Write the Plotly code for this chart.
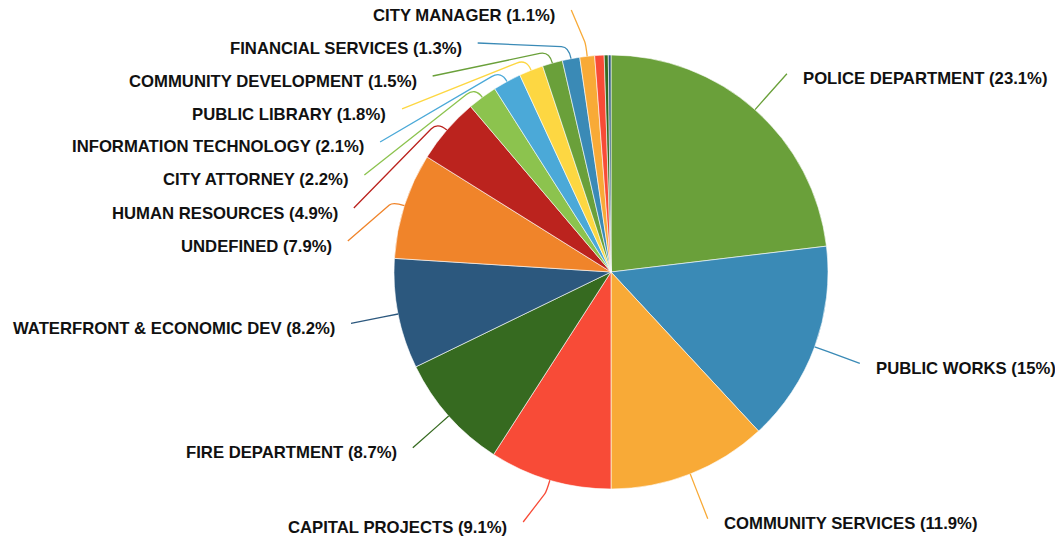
import math
import plotly.graph_objects as go

## Datos: presupuesto por departamento (%)
departments = [
    "POLICE DEPARTMENT", "PUBLIC WORKS", "COMMUNITY SERVICES", "CAPITAL PROJECTS",
    "FIRE DEPARTMENT", "WATERFRONT & ECONOMIC DEV", "UNDEFINED", "HUMAN RESOURCES",
    "CITY ATTORNEY", "INFORMATION TECHNOLOGY", "PUBLIC LIBRARY", "COMMUNITY DEVELOPMENT",
    "FINANCIAL SERVICES", "CITY MANAGER", "OTHER A", "OTHER B", "OTHER C",
]
shares = [23.1, 15, 11.9, 9.1, 8.7, 8.2, 7.9, 4.9, 2.2, 2.1, 1.8, 1.5, 1.3, 1.1, 0.7, 0.3, 0.2]
show_label = [v >= 1 for v in shares]

palette = ["#6aa03a", "#3a8ab6", "#f8aa37", "#f84b37", "#366a20", "#2c587e",
           "#f0842a", "#bb231e", "#8cc34e", "#4ba9d8", "#fdd742"]
colors = [palette[i % len(palette)] for i in range(len(shares))]

## Geometria en pixeles de pantalla (la pagina tiene 8px de margen en el body)
W, H = 1063, 540
OFF = 8
FW, FH = W - OFF, H - OFF
cx, cy, R = 611, 272, 217
label_r = 265
row_gap = 33
top_y, bottom_y = 10, 522
hook = 12
gap = 15


def px(x):
    return (x - OFF) / FW


def py(y):
    return 1 - (y - OFF) / FH


fig = go.Figure(go.Pie(
    labels=departments,
    values=shares,
    sort=False,
    direction="clockwise",
    rotation=0,
    textinfo="none",
    marker=dict(colors=colors, line=dict(color="white", width=0.6)),
    domain=dict(x=[px(cx - R), px(cx + R)], y=[py(cy + R), py(cy - R)]),
    showlegend=False,
))

## Angulos medios de cada porcion (sentido horario desde las 12)
total = sum(shares)
mids = []
acc = 0
for v in shares:
    mids.append((acc + v / 2) / total * 2 * math.pi)
    acc += v

## Posiciones de etiquetas: circulo exterior + separacion vertical por lado
pos = {}
for side in ("right", "left"):
    idx = [i for i in range(len(shares)) if show_label[i]
           and ((mids[i] < math.pi) == (side == "right"))]
    idx.sort(key=lambda i: cy - label_r * math.cos(mids[i]))
    prev = None
    for i in idx:
        y = cy - label_r * math.cos(mids[i])
        y = max(y, top_y)
        if prev is not None:
            y = max(y, prev + row_gap)
        y = min(y, bottom_y)
        dx = math.sqrt(max(label_r ** 2 - (y - cy) ** 2, 0))
        x = cx + dx if side == "right" else cx - dx
        pos[i] = (x, y)
        prev = y

shapes = []
annotations = []
for i, (lx, ly) in pos.items():
    t = mids[i]
    ux, uy = math.sin(t), -math.cos(t)
    ax, ay = cx + R * ux, cy + R * uy
    bx, by = ax + hook * ux, ay + hook * uy
    path = "M {:.4f},{:.4f} Q {:.4f},{:.4f} {:.4f},{:.4f} L {:.4f},{:.4f}".format(
        px(ax), py(ay), px(bx), py(by),
        px(bx + (lx - bx) * 0.08), py(by + (ly - by) * 0.08),
        px(lx), py(ly))
    shapes.append(dict(type="path", xref="paper", yref="paper", path=path,
                       line=dict(color=colors[i], width=1.3)))
    right = lx > cx
    annotations.append(dict(
        x=px(lx + gap if right else lx - gap), y=py(ly + 5),
        xref="paper", yref="paper",
        xanchor="left" if right else "right", yanchor="middle",
        text="{} ({:g}%)".format(departments[i], shares[i]),
        showarrow=False,
        borderpad=0,
        font=dict(family="Liberation Sans, Arial, sans-serif", size=16.7,
                  color="#111111", weight="bold"),
    ))

fig.update_layout(
    width=FW, height=FH,
    margin=dict(l=0, r=0, t=0, b=0),
    paper_bgcolor="white",
    plot_bgcolor="white",
    shapes=shapes,
    annotations=annotations,
)

fig.write_html("out.html")
